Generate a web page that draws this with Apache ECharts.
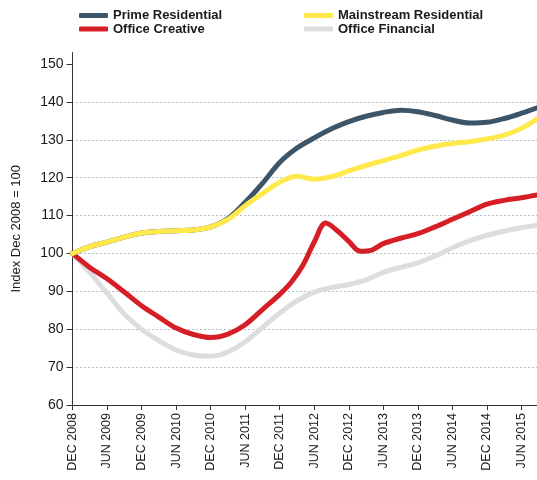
<!DOCTYPE html>
<html><head><meta charset="utf-8">
<script src="https://cdn.jsdelivr.net/npm/echarts@6/dist/echarts.min.js"></script>
<style>html,body{margin:0;padding:0;background:#fff}#c{width:537px;height:480px}</style>
</head><body><div id="c"></div>
<script>
// months since DEC 2008
const xTickLabels = ['DEC 2008','JUN 2009','DEC 2009','JUN 2010','DEC 2010','JUN 2011','DEC 2011','JUN 2012','DEC 2012','JUN 2013','DEC 2013','JUN 2014','DEC 2014','JUN 2015'];
const yTickValues = [60,70,80,90,100,110,120,130,140,150];
const quarterMonths = [0,3,6,9,12,15,18,21,24,27,30,33,36,39,42,45,48,51,54,57,60,63,66,69,72,75,78,81];
const primeResidential = [100,101.8,103,104.3,105.4,105.8,106,106.2,107,109.2,113.5,118.5,124,127.8,130.5,132.9,134.8,136.2,137.2,137.8,137.4,136.4,135.2,134.4,134.6,135.6,137,138.6];
const mainstreamResidential = [100,101.8,103,104.3,105.4,105.8,106,106.2,107,109,112.6,115.8,118.8,120.4,119.6,120.3,121.8,123.2,124.5,125.8,127.3,128.3,129,129.5,130.2,131.2,133,135.8];
const officeFinancial = [100,95,89.5,84,80,77,74.5,73.2,72.9,74,76.7,80.5,84.3,87.5,89.8,91,91.8,93,95,96.3,97.5,99.3,101.5,103.3,104.8,105.9,106.8,107.5];
const creativeMonths = [0,3,6,9,12,15,18,21,24,27,30,33,36,38,40,42,44,46,48,50,52,54,57,60,63,66,69,72,75,78,81];
const officeCreative = [100,96.3,93.3,89.8,86.2,83.2,80.3,78.6,77.8,78.7,81.2,85.2,89.2,92.4,96.8,103,108,106,103.2,100.6,100.9,102.6,104,105.2,107,109,111,113,114,114.7,115.5];

const pair = (ms, vs) => ms.map((m, i) => [m, vs[i]]);
const FONT = "'Liberation Sans', Arial, Helvetica, sans-serif";
const chart = echarts.init(document.getElementById('c'));
const lineS = (name, data, color) => ({
  name, type: 'line', data, smooth: 0.35, symbol: 'none',
  lineStyle: { color, width: 5, cap: 'round', join: 'round' },
  itemStyle: { color }, emphasis: { disabled: true }
});
const legendCommon = {
  orient: 'vertical', itemWidth: 29, itemHeight: 5, itemGap: 0.5, icon: 'roundRect',
  textStyle: { fontFamily: FONT, fontSize: 13, fontWeight: 'bold', color: '#1a1a1a', lineHeight: 13, padding: [0, 0, 0, 0] },
  padding: 0, top: 9
};
chart.setOption({
  animation: false,
  legend: [
    Object.assign({ left: 79, data: ['Prime Residential', 'Office Creative'] }, legendCommon),
    Object.assign({ left: 304, data: ['Mainstream Residential', 'Office Financial'] }, legendCommon)
  ],
  grid: { left: 72.5, right: 0, top: 52.6, bottom: 75, containLabel: false },
  xAxis: {
    type: 'value', min: 0, max: 80.7, interval: 6,
    axisLine: { lineStyle: { color: '#333', width: 1 } },
    axisTick: { show: true, length: 5, lineStyle: { color: '#333' } },
    splitLine: { show: false },
    axisLabel: {
      rotate: 90, margin: 8, fontFamily: FONT, fontSize: 12.5, color: '#1a1a1a', showMaxLabel: false,
      formatter: v => (v % 6 === 0 && xTickLabels[v / 6]) ? xTickLabels[v / 6] : ''
    }
  },
  yAxis: {
    type: 'value', min: 60, max: 153, interval: 10,
    name: 'Index Dec 2008 = 100', nameLocation: 'middle', nameGap: 50,
    nameTextStyle: { fontFamily: FONT, fontSize: 13, color: '#1a1a1a' },
    axisLine: { show: true, lineStyle: { color: '#333', width: 1 } },
    axisTick: { show: true, length: 6, lineStyle: { color: '#333' }, customValues: yTickValues },
    axisLabel: { margin: 9, fontFamily: FONT, fontSize: 14, color: '#1a1a1a', customValues: yTickValues },
    splitLine: { show: true, showMinLine: false, showMaxLine: false, lineStyle: { color: '#6a7f93', type: [1, 3], width: 1 } }
  },
  series: [
    lineS('Office Financial', pair(quarterMonths, officeFinancial), '#dcdddf'),
    lineS('Office Creative', pair(creativeMonths, officeCreative), '#d51e25'),
    lineS('Prime Residential', pair(quarterMonths, primeResidential), '#3c5569'),
    lineS('Mainstream Residential', pair(quarterMonths, mainstreamResidential), '#ffe94d')
  ]
});
</script></body></html>
